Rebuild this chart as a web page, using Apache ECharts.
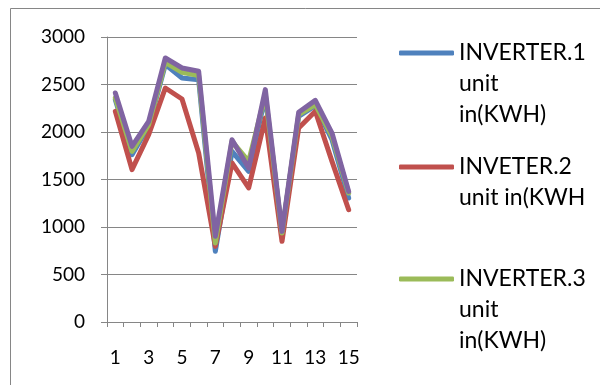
<!DOCTYPE html>
<html>
<head>
<meta charset="utf-8">
<script src="https://cdn.jsdelivr.net/npm/echarts@6/dist/echarts.min.js"></script>
<style>
html,body{margin:0;padding:0;background:#fff;}
#chart{width:600px;height:385px;}
</style>
</head>
<body>
<div id="chart"></div>
<script>
var categories = ['1','2','3','4','5','6','7','8','9','10','11','12','13','14','15'];
var seriesNames = ['INVERTER.1 unit in(KWH)', 'INVETER.2 unit in(KWH', 'INVERTER.3 unit in(KWH)', 'INVERTER.4 unit in(KWH)'];
var legendLines = [['INVERTER.1', 'unit', 'in(KWH)'], ['INVETER.2', 'unit in(KWH'], ['INVERTER.3', 'unit', 'in(KWH)']];
var inverter1 = [2340, 1761, 2060, 2709, 2568, 2551, 744, 1796, 1586, 2375, 937, 2165, 2277, 1919, 1305];
var inverter2 = [2218, 1604, 1972, 2463, 2347, 1779, 796, 1674, 1411, 2147, 849, 2042, 2218, 1691, 1182];
var inverter3 = [2358, 1796, 2077, 2733, 2628, 2593, 832, 1902, 1691, 2393, 937, 2182, 2288, 1954, 1358];
var inverter4 = [2411, 1849, 2112, 2779, 2674, 2639, 902, 1919, 1621, 2446, 954, 2207, 2333, 1989, 1375];
var yTicks = [0, 500, 1000, 1500, 2000, 2500, 3000];
var colors = ['#4F81BD', '#C0504D', '#9BBB59', '#8064A2'];

var FONT = 'Lato, "Open Sans", sans-serif';
var values = [inverter1, inverter2, inverter3, inverter4];
var LH = 31;

function makeLegend(i, iconCenterY) {
  var n = legendLines[i].length;
  var pre = [];
  for (var k = 0; k < n - 1; k++) pre.push('');
  var text = pre.concat(legendLines[i]).join('\n');
  var totalH = (2 * n - 1) * LH;
  return {
    orient: 'vertical',
    left: 394,
    top: iconCenterY - totalH / 2 - 5,
    padding: 5,
    icon: 'roundRect',
    itemWidth: 55,
    itemHeight: 5,
    itemGap: 0,
    selectedMode: false,
    data: [seriesNames[i]],
    formatter: function () { return text; },
    textStyle: {
      fontFamily: FONT,
      fontSize: 23,
      color: '#000',
      lineHeight: LH
    }
  };
}

var chart = echarts.init(document.getElementById('chart'), null, {renderer: 'canvas'});
chart.setOption({
  animation: false,
  backgroundColor: '#fff',
  color: colors,
  graphic: [{
    type: 'rect',
    shape: {x: 10.5, y: 8.5, width: 700, height: 500},
    style: {fill: 'none', stroke: '#868686', lineWidth: 1},
    z: -1
  }],
  grid: {left: 107, top: 37, right: 243, bottom: 63, containLabel: false},
  legend: [makeLegend(0, 53), makeLegend(1, 167), makeLegend(2, 279)],
  xAxis: {
    type: 'category',
    data: categories,
    boundaryGap: true,
    axisLine: {lineStyle: {color: '#868686', width: 1}},
    axisTick: {show: true, alignWithLabel: false, interval: 0, length: 5, lineStyle: {color: '#868686'}},
    axisLabel: {interval: 1, margin: 26, fontFamily: FONT, fontSize: 19, color: '#000'},
    splitLine: {show: false}
  },
  yAxis: {
    type: 'value',
    min: yTicks[0],
    max: yTicks[yTicks.length - 1],
    interval: yTicks[1] - yTicks[0],
    axisLine: {show: true, lineStyle: {color: '#868686', width: 1}},
    axisTick: {show: true, length: 6, inside: false, lineStyle: {color: '#868686'}},
    axisLabel: {margin: 22, fontFamily: FONT, fontSize: 19, color: '#000', formatter: function (v) { return String(v); }},
    splitLine: {show: true, lineStyle: {color: '#868686', width: 1}}
  },
  series: values.map(function (v, i) {
    return {
      name: seriesNames[i],
      type: 'line',
      data: v,
      symbol: 'none',
      smooth: false,
      lineStyle: {width: 5, color: colors[i], cap: 'round', join: 'round'},
      itemStyle: {color: colors[i]},
      z: 2 + i
    };
  })
});
</script>
</body>
</html>
